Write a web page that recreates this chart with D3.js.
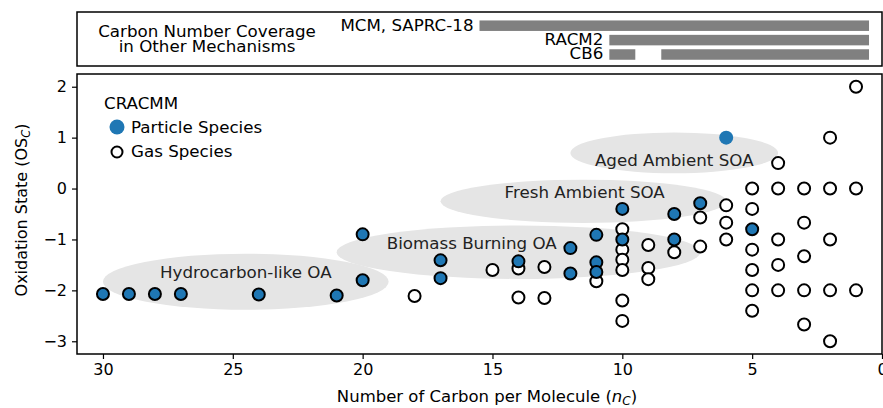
<!DOCTYPE html>
<html>
<head>
<meta charset="utf-8">
<script src="https://cdn.jsdelivr.net/npm/d3@7"></script>
<style>
  body { margin: 0; background: #fff; }
  svg { display: block; font-family: "DejaVu Sans", sans-serif; }
</style>
</head>
<body>
<div id="chart"></div>
<script>
// gas-phase species (open markers)
const gasC  = [18, 15, 14, 14, 13, 13, 11,
               10, 10, 10, 10, 10, 10,
               9, 9, 9, 8, 7, 7, 6, 6, 6,
               5, 5, 5, 5, 5, 5,
               4, 4, 4, 4, 4,
               3, 3, 3, 3, 3,
               2, 2, 2, 2, 2,
               1, 1, 1];
const gasOS = [-2.11, -1.6, -1.57, -2.14, -1.54, -2.15, -1.82,
               -0.8, -1.2, -1.4, -1.6, -2.2, -2.6,
               -1.11, -1.56, -1.78, -1.25, -0.57, -1.14, -0.33, -0.67, -1.0,
               0, -0.4, -1.2, -1.6, -2.0, -2.4,
               0.5, 0, -1.0, -1.5, -2.0,
               0, -0.67, -1.33, -2.0, -2.67,
               1, 0, -1, -2, -3,
               2, 0, -2];

// particle species (filled markers)
const partC  = [30, 29, 28, 27, 24, 21, 20, 20, 17, 17, 14, 12, 12,
                11, 11, 11, 10, 10, 8, 8, 7, 5];
const partOS = [-2.07, -2.07, -2.07, -2.07, -2.08, -2.1, -0.9, -1.8, -1.41, -1.76, -1.43, -1.17, -1.67,
                -0.91, -1.45, -1.64, -0.4, -1.0, -0.5, -1.0, -0.29, -0.8];
// particle species drawn without an edge
const partPlainC  = [6];
const partPlainOS = [1.0];

// shaded OA classes: centre (nC, OSc) and full width/height
const regionNames = ["Hydrocarbon-like OA", "Biomass Burning OA", "Fresh Ambient SOA", "Aged Ambient SOA"];
const regionC  = [24.5, 14, 11.5, 8];
const regionOS = [-1.83, -1.25, -0.25, 0.7];
const regionW  = [11, 14, 11, 8];
const regionH  = [1.1, 1.05, 0.85, 0.8];
const labelC   = [24.5, 15.8, 11.45, 8];
const labelOS  = [-1.65, -1.07, -0.07, 0.55];

// carbon coverage of other mechanisms
const mechanisms = ["MCM, SAPRC-18", "RACM2", "CB6"];
const coverMech = ["MCM, SAPRC-18", "RACM2", "CB6", "CB6"];
const coverFrom = [15, 10, 10, 8];
const coverTo   = [1, 1, 10, 1];

const xTicks = [30, 25, 20, 15, 10, 5, 0];
const yTicks = [2, 1, 0, -1, -2, -3];

const width = 883, height = 408;
const blue = "#1f77b4";
const fs = 16.7;

const svg = d3.select("#chart").append("svg")
    .attr("width", width).attr("height", height);

const plot = {left: 77, right: 882, top: 74, bottom: 354};
const topPanel = {top: 12, bottom: 66};

const x = d3.scaleLinear().domain([31, 0]).range([plot.left, plot.right]);
const y = d3.scaleLinear().domain([-3.25, 2.25]).range([plot.bottom, plot.top]);

// ---- top panel: coverage bars
svg.append("rect")
    .attr("x", plot.left).attr("y", topPanel.top)
    .attr("width", plot.right - plot.left).attr("height", topPanel.bottom - topPanel.top)
    .attr("fill", "none").attr("stroke", "#000").attr("stroke-width", 1.5);

const mechY = d3.scalePoint().domain(mechanisms).range([25.7, 54.5]);
const barH = 10.5;

svg.append("g").selectAll("rect")
    .data(coverMech.map((m, i) => ({m, from: coverFrom[i], to: coverTo[i]})))
    .join("rect")
    .attr("x", d => x(d.from + 0.5))
    .attr("width", d => x(d.to - 0.5) - x(d.from + 0.5))
    .attr("y", d => mechY(d.m) - barH / 2)
    .attr("height", barH)
    .attr("fill", "#808080");

svg.append("g").selectAll("text")
    .data(mechanisms)
    .join("text")
    .attr("x", m => x(d3.max(coverFrom.filter((f, i) => coverMech[i] === m)) + 0.5) - 6)
    .attr("y", m => mechY(m) - 1)
    .attr("dy", "0.35em")
    .attr("text-anchor", "end")
    .attr("font-size", fs)
    .text(m => m);

const topTitle = svg.append("text")
    .attr("x", 207).attr("y", 31)
    .attr("text-anchor", "middle").attr("font-size", fs);
topTitle.append("tspan").attr("x", 207).attr("dy", "0.35em").text("Carbon Number Coverage");
topTitle.append("tspan").attr("x", 207).attr("dy", "15.5").text("in Other Mechanisms");

// ---- main panel
const g = svg.append("g");

g.append("g").selectAll("ellipse")
    .data(regionNames.map((n, i) => ({n, i})))
    .join("ellipse")
    .attr("cx", d => x(regionC[d.i]))
    .attr("cy", d => y(regionOS[d.i]))
    .attr("rx", d => Math.abs(x(regionW[d.i] / 2) - x(0)))
    .attr("ry", d => Math.abs(y(regionH[d.i] / 2) - y(0)))
    .attr("fill", "#e5e5e5");

g.append("g").selectAll("text")
    .data(regionNames.map((n, i) => ({n, i})))
    .join("text")
    .attr("x", d => x(labelC[d.i]))
    .attr("y", d => y(labelOS[d.i]))
    .attr("dy", "0.35em")
    .attr("text-anchor", "middle")
    .attr("font-size", fs)
    .attr("fill", "#222")
    .text(d => d.n);

const r = 6;

g.append("g").selectAll("circle")
    .data(gasC.map((c, i) => ({c, os: gasOS[i]})))
    .join("circle")
    .attr("cx", d => x(d.c)).attr("cy", d => y(d.os))
    .attr("r", r)
    .attr("fill", "#fff").attr("stroke", "#000").attr("stroke-width", 2);

g.append("g").selectAll("circle")
    .data(partC.map((c, i) => ({c, os: partOS[i]})))
    .join("circle")
    .attr("cx", d => x(d.c)).attr("cy", d => y(d.os))
    .attr("r", r)
    .attr("fill", blue).attr("stroke", "#000").attr("stroke-width", 2);

g.append("g").selectAll("circle")
    .data(partPlainC.map((c, i) => ({c, os: partPlainOS[i]})))
    .join("circle")
    .attr("cx", d => x(d.c)).attr("cy", d => y(d.os))
    .attr("r", r + 1)
    .attr("fill", blue);

// frame
svg.append("rect")
    .attr("x", plot.left).attr("y", plot.top)
    .attr("width", plot.right - plot.left).attr("height", plot.bottom - plot.top)
    .attr("fill", "none").attr("stroke", "#000").attr("stroke-width", 1.5);

// axes
const xAxis = svg.append("g")
    .attr("transform", `translate(0,${plot.bottom})`)
    .call(d3.axisBottom(x).tickValues(xTicks).tickSize(5).tickPadding(5).tickFormat(d3.format("d")));
const yAxis = svg.append("g")
    .attr("transform", `translate(${plot.left},0)`)
    .call(d3.axisLeft(y).tickValues(yTicks).tickSize(5).tickPadding(5).tickFormat(d => d < 0 ? "\u2212" + (-d) : d));

[xAxis, yAxis].forEach(a => {
    a.select(".domain").remove();
    a.selectAll(".tick line").attr("stroke", "#000").attr("stroke-width", 1.2);
    a.selectAll(".tick text").attr("font-size", 16).attr("font-family", "DejaVu Sans").attr("fill", "#000");
});

// axis labels
const xl = svg.append("text")
    .attr("x", 487).attr("y", 402)
    .attr("text-anchor", "middle").attr("font-size", 16.5);
xl.append("tspan").text("Number of Carbon per Molecule (");
xl.append("tspan").attr("font-style", "italic").text("n");
xl.append("tspan").attr("font-style", "italic").attr("font-size", 12).attr("dy", 3).text("C");
xl.append("tspan").attr("dy", -3).text(")");

const yl = svg.append("text")
    .attr("transform", `translate(27,210) rotate(-90)`)
    .attr("text-anchor", "middle").attr("font-size", 16);
yl.append("tspan").text("Oxidation State (OS");
yl.append("tspan").attr("font-style", "italic").attr("font-size", 11.5).attr("dy", 3).text("C");
yl.append("tspan").attr("dy", -3).text(")");

// legend
const legend = svg.append("g");
legend.append("text").attr("x", 104).attr("y", 103).attr("dy", "0.35em")
    .attr("font-size", fs).text("CRACMM");
legend.append("circle").attr("cx", 117).attr("cy", 127).attr("r", 7.5).attr("fill", blue);
legend.append("text").attr("x", 131).attr("y", 127).attr("dy", "0.35em")
    .attr("font-size", fs).text("Particle Species");
legend.append("circle").attr("cx", 117).attr("cy", 152).attr("r", 5.5)
    .attr("fill", "#fff").attr("stroke", "#000").attr("stroke-width", 2);
legend.append("text").attr("x", 131).attr("y", 151).attr("dy", "0.35em")
    .attr("font-size", fs).text("Gas Species");
</script>
</body>
</html>
